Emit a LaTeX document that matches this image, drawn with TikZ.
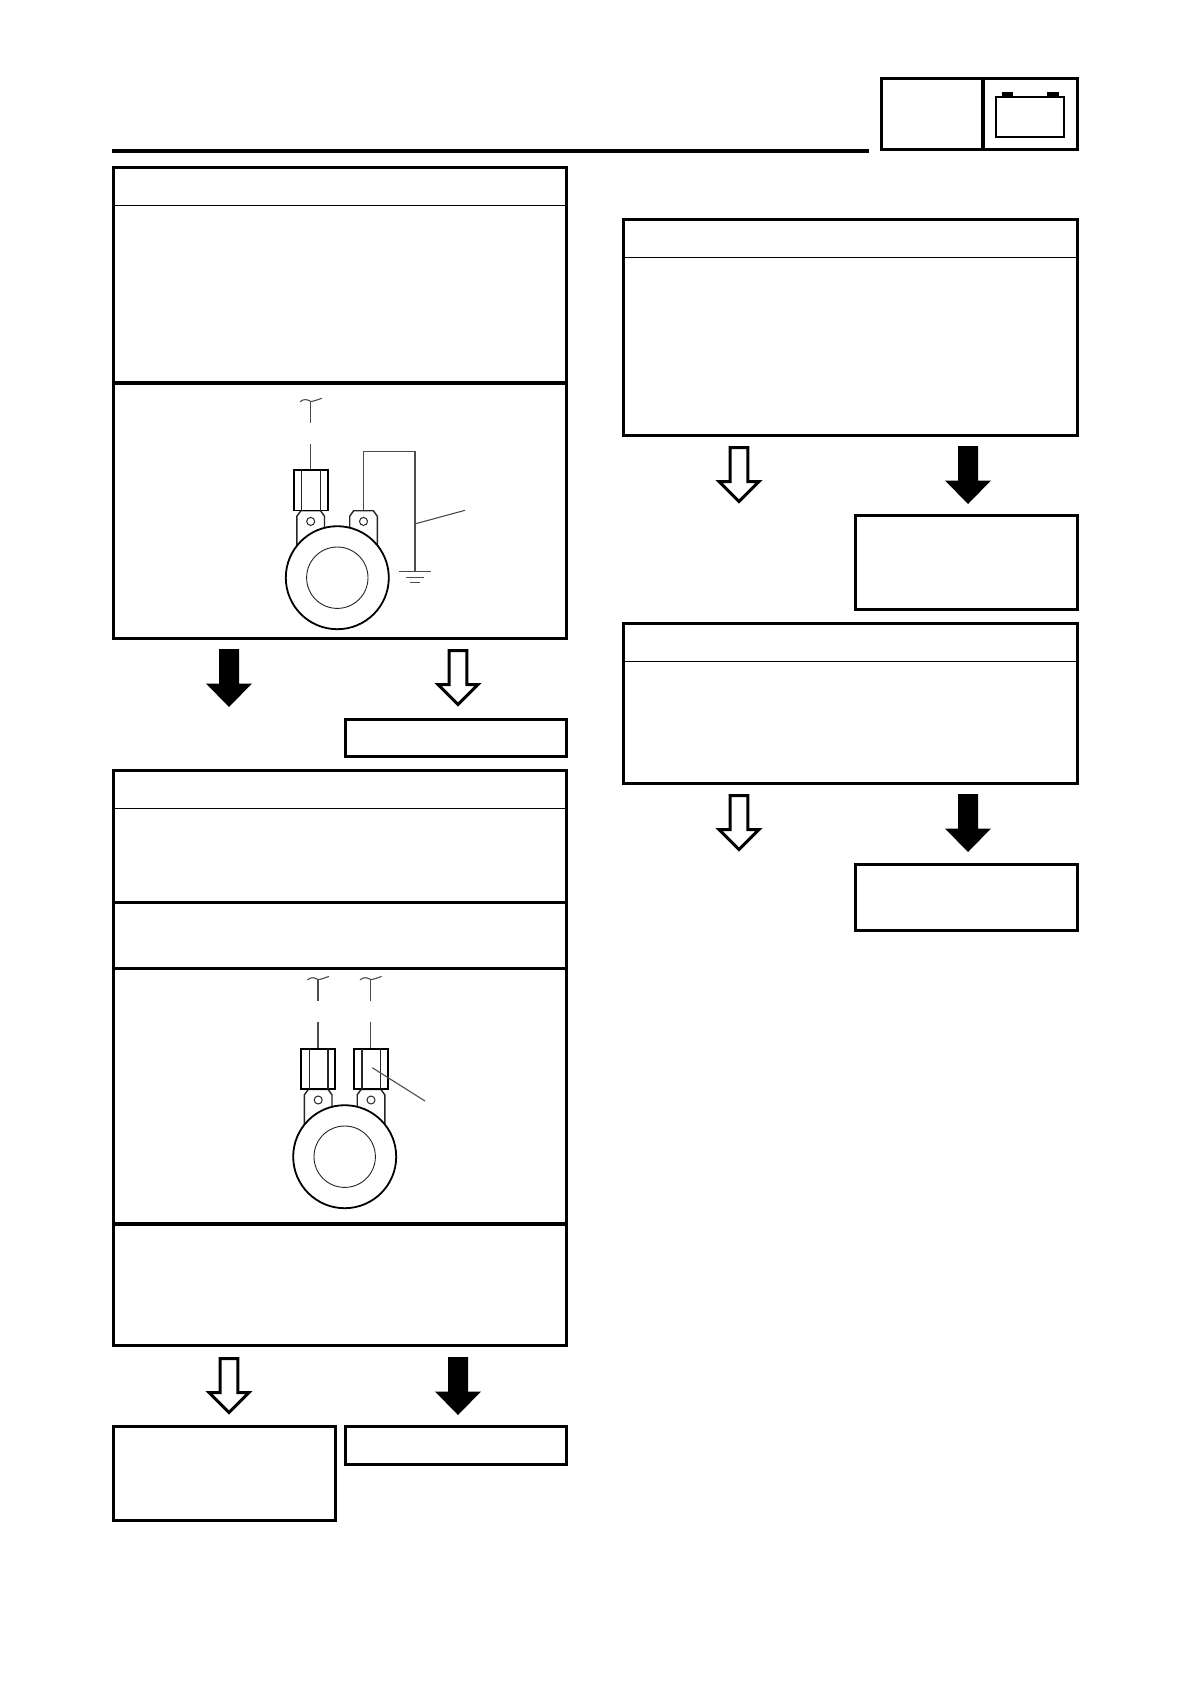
\documentclass[tikz,border=0pt]{standalone}
\begin{document}
\begin{tikzpicture}[x=1pt,y=-1pt,
  flowbox/.style={draw=black,line width=3pt,fill=none,rectangle,inner sep=0pt,outer sep=0pt,anchor=north west},
  thinrule/.style={draw=black,line width=1pt},
  thickrule/.style={draw=black,line width=3.1pt},
  wire/.style={draw=black!70,line width=1.1pt},
  part/.style={draw=black!85,line width=1.4pt},
  partb/.style={draw=black,line width=1.8pt},
  pics/blackarrow/.style={code={
    \fill[black] (-10,0) -- (10,0) -- (10,34.5) -- (23,34.5) -- (0,58) -- (-23,34.5) -- (-10,34.5) -- cycle;}},
  pics/whitearrow/.style={code={
    \draw[black,line width=3pt,fill=white,line join=miter] (-8.8,1.5) -- (8.8,1.5) -- (8.8,35.5) -- (20,35.5) -- (0,55.5) -- (-20,35.5) -- (-8.8,35.5) -- cycle;}},
  pics/wirebreak/.style={code={
    \draw[wire] (0,0) -- (0,22.6);
    \draw[wire] (-10.7,1) .. controls (-6,-2.5) and (-3,-1) .. (0,0.8) .. controls (3,0.6) and (7,-1) .. (11,-2.4);}},
  pics/termconn/.style={code={
    \draw[partb,fill=white] (-17,0) rectangle (17,40.5);
    \draw[part] (-9,0) -- (-9,40.5) (9.6,0) -- (9.6,40.5);}},
  pics/termtab/.style={code={
    \draw[part] (-13.8,40) -- (-13.8,5.5) -- (-9.8,0) -- (9.8,0) -- (13.8,5.5) -- (13.8,40);
    \draw[black!85,line width=1pt] (0,10.7) circle (4);}}
]
\useasboundingbox (0,0) rectangle (1190,1684);
\fill[white] (0,0) rectangle (1190,1684);

% header
\draw[thickrule] (112,151) -- (869,151);
\node[flowbox,minimum width=196pt,minimum height=71pt] (hdr) at (881,78) {};
\draw[thickrule] (983,78) -- (983,149);
\draw[black,line width=1.8pt] (996,97) rectangle (1064,137);
\fill[black] (1002,92) rectangle (1013,97);
\fill[black] (1047,92) rectangle (1059,97);

% left column boxes
\node[flowbox,minimum width=453pt,minimum height=471pt] (boxA) at (113,167) {};
\draw[thinrule] (113,205) -- (566,205);
\draw[thickrule] (113,383) -- (566,383);

\node[flowbox,minimum width=221pt,minimum height=37pt] (boxR) at (345,719) {};

\node[flowbox,minimum width=453pt,minimum height=575pt] (boxB) at (113,770) {};
\draw[thinrule] (113,808) -- (566,808);
\draw[thickrule] (113,902.5) -- (566,902.5);
\draw[thickrule] (113,968.5) -- (566,968.5);
\draw[thickrule] (113,1224) -- (566,1224);

\node[flowbox,minimum width=222pt,minimum height=94pt] (boxL1) at (113,1426) {};
\node[flowbox,minimum width=221pt,minimum height=38pt] (boxL2) at (345,1426) {};

% right column boxes
\node[flowbox,minimum width=454pt,minimum height=216pt] (boxC) at (623,219) {};
\draw[thinrule] (623,257) -- (1077,257);
\node[flowbox,minimum width=222pt,minimum height=94pt] (boxD) at (855,515) {};
\node[flowbox,minimum width=454pt,minimum height=160pt] (boxE) at (623,623) {};
\draw[thinrule] (623,661) -- (1077,661);
\node[flowbox,minimum width=222pt,minimum height=66pt] (boxF) at (855,864) {};

% block arrows
\pic at (229,649) {blackarrow};
\pic at (458,649) {whitearrow};
\pic at (229,1357) {whitearrow};
\pic at (458,1357) {blackarrow};
\pic at (739,446) {whitearrow};
\pic at (968,446) {blackarrow};
\pic at (739,794) {whitearrow};
\pic at (968,794) {blackarrow};

% upper sensor diagram
\pic at (310.7,400.7) {wirebreak};
\draw[wire] (310.7,444) -- (310.7,470);
\pic at (310.7,510.7) {termtab};
\pic at (363.5,510.7) {termtab};
\pic at (310.7,470) {termconn};
\draw[wire] (363.3,510) -- (363.3,451.3) -- (415,451.3) -- (415,571.7);
\draw[wire] (399.3,571.7) -- (431,571.7);
\draw[wire] (406,577.3) -- (424,577.3);
\draw[wire] (410,582.3) -- (420,582.3);
\draw[wire] (415.7,523.7) -- (465,510.3);
\node[circle,draw=black,line width=1.8pt,fill=white,minimum size=103pt,inner sep=0pt,outer sep=0pt] (ringA) at (337.3,577.7) {};
\node[circle,draw=black!85,line width=0.9pt,minimum size=61.4pt,inner sep=0pt,outer sep=0pt] (holeA) at (ringA.center) {};

% lower sensor diagram
\pic at (318,978.8) {wirebreak};
\pic at (370.7,978.8) {wirebreak};
\draw[wire] (318,1022) -- (318,1048.8);
\draw[wire] (370.7,1022) -- (370.7,1048.8);
\pic at (318.2,1089.3) {termtab};
\pic at (371,1089.3) {termtab};
\pic at (318.3,1048.8) {termconn};
\pic at (371,1048.8) {termconn};
\draw[wire] (372.3,1067.7) -- (425,1101);
\node[circle,draw=black,line width=1.8pt,fill=white,minimum size=103pt,inner sep=0pt,outer sep=0pt] (ringB) at (344.7,1156.7) {};
\node[circle,draw=black!85,line width=0.9pt,minimum size=61.4pt,inner sep=0pt,outer sep=0pt] (holeB) at (ringB.center) {};
\end{tikzpicture}
\end{document}
